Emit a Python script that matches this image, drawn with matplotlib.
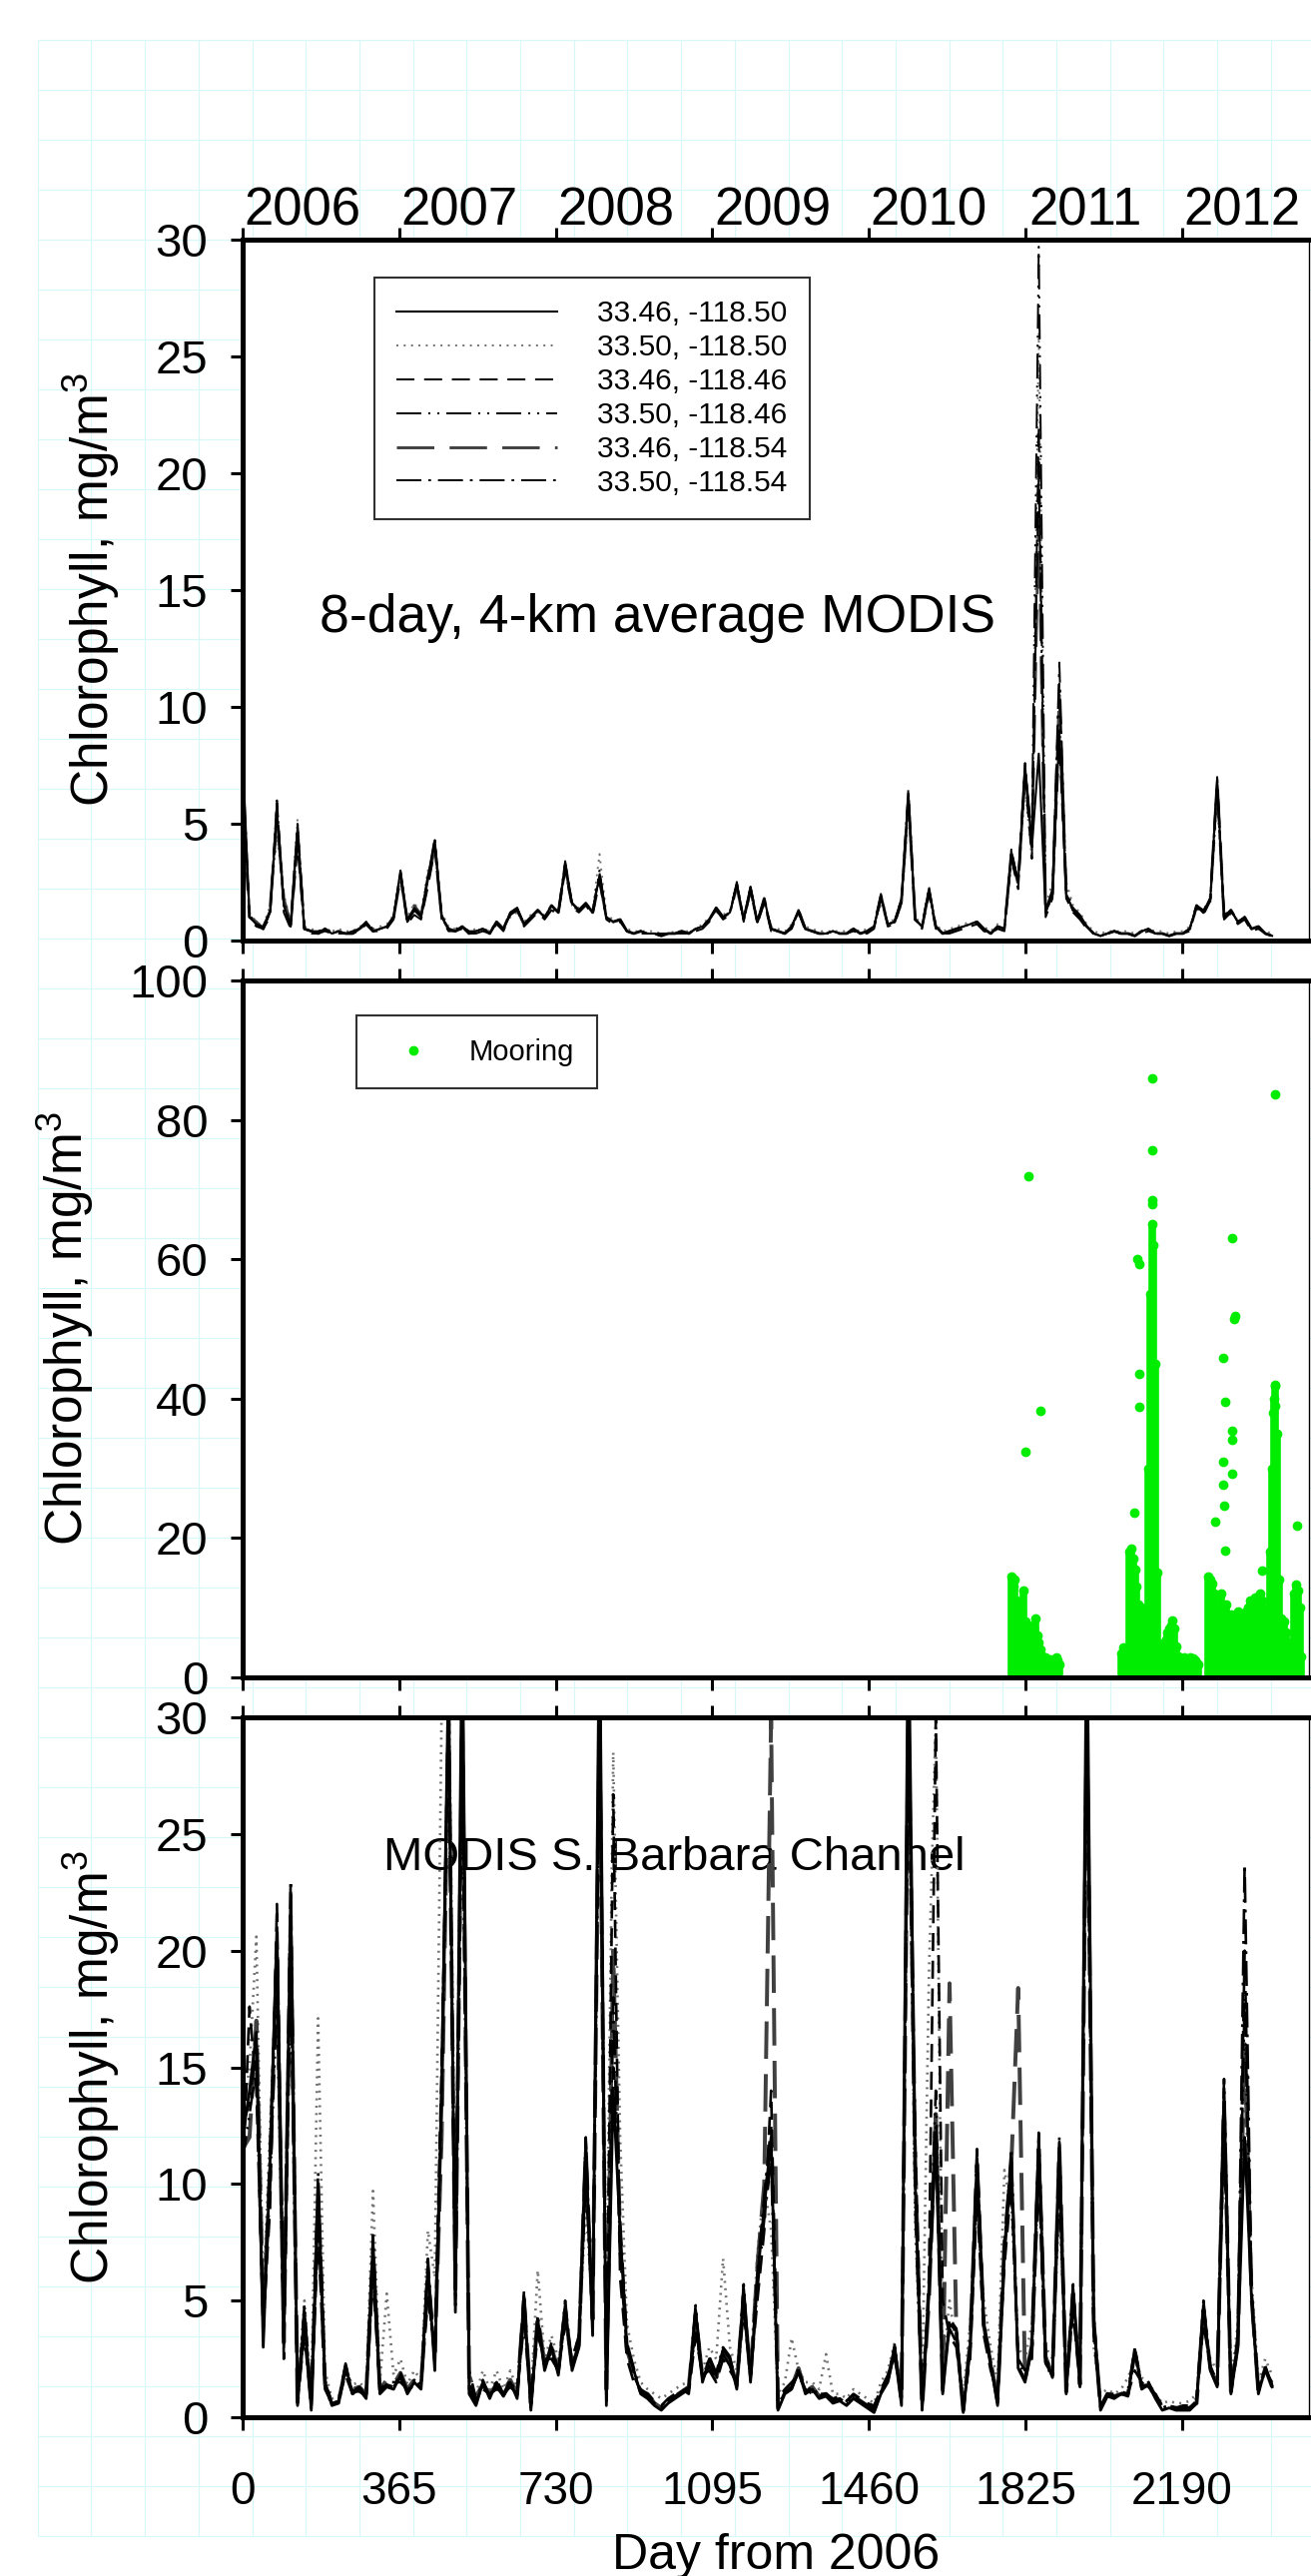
import numpy as np
import matplotlib
matplotlib.use('Agg')
import matplotlib.pyplot as plt

plt.rcParams['font.family'] = ['Liberation Sans', 'DejaVu Sans']
plt.rcParams['mathtext.default'] = 'regular'
plt.rcParams['lines.scale_dashes'] = False

# ---- data -------------------------------------------------------------
# 16-day sampling of the MODIS composites, day counted from 1 Jan 2006
days = np.arange(0, 2401, 16)

locations = ['33.46, -118.50', '33.50, -118.50', '33.46, -118.46',
             '33.50, -118.46', '33.46, -118.54', '33.50, -118.54']
years = ['2006', '2007', '2008', '2009', '2010', '2011', '2012']
day_ticks = [0, 365, 730, 1095, 1460, 1825, 2190]

# top panel: 8-day, 4-km MODIS pixels around the mooring
p1_s1 = [8.0, 1.0, 0.7, 0.5, 1.2, 5.5, 1.5, 0.6, 4.8, 0.5,
         0.4, 0.3, 0.5, 0.3, 0.4, 0.3, 0.3, 0.5, 0.8, 0.4,
         0.5, 0.6, 1.0, 3.0, 0.8, 1.3, 1.0, 2.6, 4.3, 1.0,
         0.5, 0.4, 0.6, 0.3, 0.4, 0.5, 0.3, 0.8, 0.5, 1.2,
         1.4, 0.7, 1.0, 1.3, 1.0, 1.5, 1.2, 3.3, 1.6, 1.3,
         1.6, 1.2, 2.8, 1.0, 0.8, 0.9, 0.4, 0.3, 0.4, 0.3,
         0.3, 0.2, 0.3, 0.3, 0.4, 0.3, 0.5, 0.6, 0.9, 1.4,
         1.0, 1.2, 2.4, 0.9, 2.3, 0.8, 1.8, 0.5, 0.4, 0.3,
         0.6, 1.3, 0.5, 0.4, 0.3, 0.3, 0.4, 0.3, 0.3, 0.5,
         0.3, 0.4, 0.6, 1.9, 0.7, 0.8, 1.8, 6.3, 0.9, 0.6,
         2.2, 0.6, 0.3, 0.4, 0.5, 0.6, 0.7, 0.8, 0.5, 0.3,
         0.6, 0.5, 3.8, 2.5, 7.5, 4.0, 8.0, 1.2, 2.0, 9.0,
         2.0, 1.3, 1.0, 0.6, 0.3, 0.2, 0.3, 0.4, 0.3, 0.3,
         0.2, 0.4, 0.5, 0.3, 0.3, 0.2, 0.3, 0.3, 0.5, 1.5,
         1.2, 1.8, 6.9, 1.0, 1.3, 0.8, 1.0, 0.5, 0.6, 0.3,
         0.2]
p1_s2 = [7.5, 1.2, 0.8, 0.6, 1.5, 4.5, 2.0, 0.8, 5.2, 0.6,
         0.5, 0.4, 0.5, 0.4, 0.5, 0.4, 0.4, 0.6, 0.7, 0.5,
         0.6, 0.7, 1.1, 2.6, 1.0, 1.6, 1.2, 3.0, 3.8, 1.2,
         0.6, 0.5, 0.6, 0.4, 0.5, 0.5, 0.4, 0.7, 0.6, 1.0,
         1.2, 0.8, 1.1, 1.2, 1.1, 1.4, 1.3, 2.9, 1.5, 1.4,
         1.5, 1.3, 3.7, 1.1, 0.9, 0.8, 0.5, 0.4, 0.4, 0.4,
         0.4, 0.3, 0.3, 0.4, 0.4, 0.4, 0.5, 0.7, 1.0, 1.2,
         1.1, 1.3, 2.2, 1.0, 2.0, 0.9, 1.5, 0.6, 0.5, 0.4,
         0.7, 1.1, 0.6, 0.5, 0.4, 0.4, 0.4, 0.4, 0.4, 0.5,
         0.4, 0.5, 0.6, 1.6, 0.8, 0.9, 1.5, 5.5, 1.0, 0.7,
         2.0, 0.7, 0.4, 0.5, 0.6, 0.7, 0.8, 0.7, 0.6, 0.4,
         0.7, 0.6, 3.2, 2.8, 6.5, 3.5, 26.0, 1.5, 2.5, 10.0,
         2.5, 1.5, 1.2, 0.7, 0.4, 0.3, 0.4, 0.4, 0.4, 0.4,
         0.3, 0.4, 0.5, 0.4, 0.4, 0.3, 0.4, 0.4, 0.6, 1.3,
         1.4, 1.6, 6.0, 1.2, 1.1, 0.9, 0.9, 0.6, 0.5, 0.4,
         0.3]
p1_s3 = [6.5, 0.9, 0.6, 0.5, 1.0, 6.0, 1.2, 0.5, 4.0, 0.4,
         0.3, 0.3, 0.4, 0.3, 0.3, 0.3, 0.3, 0.4, 0.7, 0.4,
         0.4, 0.5, 0.9, 2.8, 0.7, 1.1, 0.9, 2.3, 3.9, 0.9,
         0.4, 0.4, 0.5, 0.3, 0.3, 0.4, 0.3, 0.7, 0.4, 1.1,
         1.3, 0.6, 0.9, 1.2, 0.9, 1.3, 1.1, 3.0, 1.4, 1.2,
         1.5, 1.1, 2.5, 0.9, 0.7, 0.8, 0.4, 0.3, 0.3, 0.3,
         0.3, 0.2, 0.3, 0.3, 0.3, 0.3, 0.4, 0.5, 0.8, 1.3,
         0.9, 1.1, 2.5, 0.8, 2.1, 0.7, 1.6, 0.4, 0.4, 0.3,
         0.5, 1.2, 0.4, 0.4, 0.3, 0.3, 0.3, 0.3, 0.3, 0.4,
         0.3, 0.3, 0.5, 1.8, 0.6, 0.7, 1.6, 6.0, 0.8, 0.5,
         2.0, 0.5, 0.3, 0.3, 0.4, 0.5, 0.6, 0.7, 0.4, 0.3,
         0.5, 0.4, 3.5, 2.2, 7.0, 3.5, 22.0, 1.0, 1.8, 8.5,
         1.8, 1.2, 0.9, 0.5, 0.3, 0.2, 0.3, 0.3, 0.3, 0.3,
         0.2, 0.3, 0.4, 0.3, 0.3, 0.2, 0.3, 0.3, 0.4, 1.4,
         1.1, 1.7, 6.5, 0.9, 1.2, 0.7, 0.9, 0.4, 0.5, 0.3,
         0.2]
p1_s4 = [7.0, 1.1, 0.7, 0.6, 1.3, 5.8, 1.6, 0.7, 5.0, 0.5,
         0.4, 0.4, 0.5, 0.4, 0.4, 0.3, 0.4, 0.5, 0.8, 0.5,
         0.5, 0.6, 1.0, 2.9, 0.9, 1.4, 1.1, 2.8, 4.1, 1.1,
         0.5, 0.5, 0.6, 0.4, 0.4, 0.5, 0.4, 0.8, 0.5, 1.1,
         1.3, 0.7, 1.0, 1.3, 1.0, 1.4, 1.2, 3.1, 1.6, 1.3,
         1.6, 1.2, 3.0, 1.0, 0.8, 0.9, 0.4, 0.3, 0.4, 0.3,
         0.3, 0.3, 0.3, 0.3, 0.4, 0.3, 0.5, 0.6, 0.9, 1.3,
         1.0, 1.2, 2.4, 0.9, 2.2, 0.8, 1.7, 0.5, 0.4, 0.3,
         0.6, 1.2, 0.5, 0.4, 0.3, 0.3, 0.4, 0.3, 0.3, 0.5,
         0.3, 0.4, 0.6, 1.8, 0.7, 0.8, 1.7, 6.1, 0.9, 0.6,
         2.1, 0.6, 0.3, 0.4, 0.5, 0.6, 0.7, 0.8, 0.5, 0.3,
         0.6, 0.5, 3.6, 2.6, 7.2, 4.5, 29.7, 1.3, 2.2, 11.0,
         2.2, 1.4, 1.1, 0.6, 0.3, 0.2, 0.3, 0.4, 0.3, 0.3,
         0.2, 0.4, 0.5, 0.3, 0.3, 0.2, 0.3, 0.3, 0.5, 1.5,
         1.3, 1.8, 6.7, 1.1, 1.3, 0.8, 1.0, 0.5, 0.6, 0.3,
         0.2]
p1_s5 = [6.0, 1.0, 0.8, 0.5, 1.4, 5.2, 1.8, 0.7, 4.5, 0.5,
         0.4, 0.3, 0.5, 0.3, 0.4, 0.3, 0.3, 0.5, 0.7, 0.4,
         0.5, 0.6, 1.0, 2.7, 0.9, 1.5, 1.1, 2.5, 4.0, 1.0,
         0.5, 0.4, 0.6, 0.3, 0.4, 0.5, 0.3, 0.8, 0.5, 1.2,
         1.3, 0.7, 1.0, 1.3, 1.0, 1.5, 1.2, 3.2, 1.5, 1.3,
         1.6, 1.2, 2.6, 1.0, 0.8, 0.9, 0.4, 0.3, 0.4, 0.3,
         0.3, 0.2, 0.3, 0.3, 0.4, 0.3, 0.5, 0.6, 0.9, 1.4,
         1.0, 1.2, 2.3, 0.9, 2.2, 0.8, 1.8, 0.5, 0.4, 0.3,
         0.6, 1.3, 0.5, 0.4, 0.3, 0.3, 0.4, 0.3, 0.3, 0.5,
         0.3, 0.4, 0.6, 1.9, 0.7, 0.8, 1.7, 6.0, 0.9, 0.6,
         2.1, 0.6, 0.3, 0.4, 0.5, 0.6, 0.7, 0.8, 0.5, 0.3,
         0.6, 0.5, 3.7, 2.4, 7.3, 4.2, 18.0, 1.2, 2.0, 10.5,
         2.0, 1.3, 1.0, 0.6, 0.3, 0.2, 0.3, 0.4, 0.3, 0.3,
         0.2, 0.4, 0.5, 0.3, 0.3, 0.2, 0.3, 0.3, 0.5, 1.5,
         1.2, 1.8, 6.8, 1.0, 1.3, 0.8, 1.0, 0.5, 0.6, 0.3,
         0.2]
p1_s6 = [7.8, 1.0, 0.7, 0.5, 1.2, 5.9, 1.5, 0.6, 4.9, 0.5,
         0.4, 0.3, 0.5, 0.3, 0.4, 0.3, 0.3, 0.5, 0.8, 0.4,
         0.5, 0.6, 1.0, 3.0, 0.8, 1.3, 1.0, 2.7, 4.4, 1.0,
         0.5, 0.4, 0.6, 0.3, 0.4, 0.5, 0.3, 0.8, 0.5, 1.2,
         1.4, 0.7, 1.0, 1.3, 1.0, 1.5, 1.2, 3.4, 1.6, 1.3,
         1.6, 1.2, 2.9, 1.0, 0.8, 0.9, 0.4, 0.3, 0.4, 0.3,
         0.3, 0.2, 0.3, 0.3, 0.4, 0.3, 0.5, 0.6, 0.9, 1.4,
         1.0, 1.2, 2.5, 0.9, 2.3, 0.8, 1.8, 0.5, 0.4, 0.3,
         0.6, 1.3, 0.5, 0.4, 0.3, 0.3, 0.4, 0.3, 0.3, 0.5,
         0.3, 0.4, 0.6, 2.0, 0.7, 0.8, 1.8, 6.5, 0.9, 0.6,
         2.3, 0.6, 0.3, 0.4, 0.5, 0.6, 0.7, 0.8, 0.5, 0.3,
         0.6, 0.5, 3.9, 2.5, 7.6, 4.0, 20.0, 1.2, 2.0, 11.9,
         2.0, 1.3, 1.0, 0.6, 0.3, 0.2, 0.3, 0.4, 0.3, 0.3,
         0.2, 0.4, 0.5, 0.3, 0.3, 0.2, 0.3, 0.3, 0.5, 1.5,
         1.2, 1.8, 7.0, 1.0, 1.3, 0.8, 1.0, 0.5, 0.6, 0.3,
         0.2]

# bottom panel: MODIS, Santa Barbara Channel
p3_s1 = [12.0, 14.0, 16.5, 3.0, 11.0, 21.0, 3.0, 22.5, 0.5, 4.5,
         0.3, 10.0, 1.5, 0.5, 0.6, 2.2, 1.0, 1.2, 0.8, 7.5,
         1.0, 1.3, 1.2, 1.8, 1.0, 1.5, 1.2, 6.5, 2.0, 14.0,
         32.0, 4.5, 35.0, 1.0, 0.5, 1.5, 0.8, 1.5, 0.9, 1.5,
         0.8, 5.2, 0.3, 4.2, 2.0, 3.0, 1.8, 4.8, 2.0, 3.0,
         11.8, 3.5, 35.0, 0.5, 14.0, 8.0, 3.0, 2.0, 1.0, 0.8,
         0.5, 0.3, 0.6, 0.8, 1.0, 1.2, 4.6, 1.5, 2.5, 1.8,
         2.9, 2.5, 1.2, 5.5, 1.5, 6.0, 9.0, 12.0, 0.3, 1.0,
         1.2, 2.0, 1.0, 1.2, 0.8, 0.9, 0.6, 0.7, 0.5, 0.8,
         0.6, 0.4, 0.2, 1.0, 1.5, 3.0, 0.5, 35.0, 10.0, 0.3,
         5.3, 12.0, 1.0, 4.0, 3.7, 0.2, 3.0, 11.1, 4.0, 2.3,
         0.5, 7.2, 11.1, 2.1, 1.5, 3.0, 11.9, 2.5, 1.7, 11.8,
         1.0, 5.5, 1.3, 35.0, 4.3, 0.3, 0.9, 0.8, 1.0, 0.9,
         2.9, 1.2, 1.4, 0.8, 0.3, 0.4, 0.3, 0.3, 0.3, 0.6,
         4.8, 2.0, 1.3, 14.1, 1.0, 3.0, 12.0, 5.1, 1.0, 2.1,
         1.3]
p3_s2 = [13.0, 15.0, 20.6, 5.0, 12.5, 19.0, 4.0, 21.0, 1.0, 5.0,
         0.8, 17.1, 2.0, 0.8, 0.9, 2.0, 1.4, 1.5, 1.2, 9.7,
         1.5, 5.3, 1.8, 2.5, 1.4, 2.0, 1.6, 8.0, 6.0, 30.5,
         33.0, 8.0, 30.0, 1.5, 1.0, 2.0, 1.2, 2.0, 1.2, 2.0,
         1.2, 4.5, 1.0, 6.3, 2.5, 3.5, 2.5, 4.0, 2.5, 3.5,
         9.0, 4.5, 30.0, 5.0, 28.5, 12.0, 4.0, 2.5, 1.5, 1.2,
         1.0, 0.8, 1.0, 1.2, 1.4, 1.5, 3.5, 2.0, 3.0, 2.5,
         6.8, 3.0, 2.0, 5.0, 2.0, 7.0, 10.0, 8.0, 1.0, 1.5,
         3.4, 2.0, 1.5, 1.5, 1.2, 2.7, 1.0, 1.0, 0.8, 1.2,
         1.0, 0.8, 0.6, 1.5, 2.0, 3.2, 1.0, 30.0, 8.0, 1.0,
         19.0, 30.0, 2.0, 5.0, 3.0, 1.0, 4.0, 9.0, 5.0, 3.0,
         1.5, 10.6, 9.0, 3.0, 2.5, 4.0, 10.0, 3.0, 2.5, 9.0,
         2.0, 5.0, 2.0, 30.0, 3.0, 1.0, 1.2, 1.0, 1.2, 1.7,
         2.5, 1.7, 1.5, 1.0, 0.6, 0.7, 0.6, 0.6, 0.7, 1.0,
         4.0, 2.5, 2.0, 12.0, 1.5, 4.0, 15.0, 6.0, 1.5, 2.5,
         1.8]
p3_s3 = [10.0, 17.6, 14.0, 4.0, 9.0, 22.0, 2.5, 20.0, 0.8, 3.5,
         0.5, 8.0, 1.2, 0.6, 0.8, 1.8, 1.0, 1.0, 0.9, 6.0,
         1.2, 1.5, 1.5, 1.5, 1.2, 1.3, 1.5, 5.0, 3.0, 15.1,
         30.0, 6.0, 30.0, 2.0, 0.8, 1.2, 1.0, 1.2, 1.0, 1.3,
         1.0, 4.0, 0.8, 3.5, 2.5, 2.5, 2.0, 4.0, 2.5, 3.5,
         10.0, 5.0, 30.0, 1.5, 26.7, 6.0, 2.5, 1.5, 1.2, 1.0,
         0.7, 0.5, 0.8, 1.0, 1.2, 1.0, 3.5, 1.8, 2.0, 1.5,
         2.5, 2.0, 1.5, 4.5, 1.8, 5.0, 8.0, 14.0, 0.8, 1.2,
         1.5, 1.8, 1.2, 1.0, 1.0, 1.0, 0.8, 0.9, 0.7, 1.0,
         0.8, 0.6, 0.5, 1.2, 1.8, 2.5, 1.0, 30.0, 12.0, 0.5,
         6.0, 30.0, 5.0, 3.5, 3.0, 0.5, 2.5, 9.5, 3.5, 2.0,
         1.0, 6.5, 10.0, 2.5, 2.0, 2.5, 10.5, 2.0, 2.0, 10.0,
         1.5, 4.5, 1.5, 30.0, 3.5, 0.5, 1.0, 1.0, 1.1, 1.0,
         2.0, 1.5, 1.2, 1.0, 0.5, 0.5, 0.4, 0.5, 0.5, 0.8,
         4.0, 2.2, 1.5, 12.5, 1.2, 3.5, 20.0, 5.5, 1.2, 2.0,
         1.5]
p3_s4 = [11.0, 13.0, 15.0, 3.5, 10.0, 18.0, 3.5, 19.0, 0.6, 4.0,
         0.4, 9.0, 1.3, 0.5, 0.7, 2.0, 1.1, 1.1, 0.9, 6.5,
         1.1, 1.4, 1.3, 1.7, 1.1, 1.4, 1.3, 5.5, 2.5, 13.0,
         30.0, 5.0, 28.0, 1.5, 0.7, 1.3, 0.9, 1.3, 0.9, 1.4,
         0.9, 4.8, 0.5, 4.0, 2.2, 2.8, 1.9, 4.5, 2.2, 3.2,
         11.0, 4.0, 30.0, 1.0, 18.0, 7.0, 2.8, 1.8, 1.1, 0.9,
         0.6, 0.4, 0.7, 0.9, 1.1, 1.1, 4.0, 1.6, 2.2, 1.6,
         2.7, 2.2, 1.3, 5.0, 1.6, 5.5, 8.5, 11.0, 0.5, 1.1,
         1.3, 1.9, 1.1, 1.1, 0.9, 1.0, 0.7, 0.8, 0.6, 0.9,
         0.7, 0.5, 0.4, 1.1, 1.6, 2.8, 0.8, 30.0, 9.0, 0.4,
         5.5, 14.0, 1.5, 3.8, 3.2, 0.4, 2.8, 10.5, 3.8, 2.2,
         0.8, 7.0, 10.5, 2.3, 1.8, 2.8, 11.0, 2.3, 1.8, 11.0,
         1.2, 5.0, 1.4, 30.0, 4.0, 0.4, 1.0, 0.9, 1.0, 1.2,
         2.7, 1.4, 1.3, 0.9, 0.4, 0.5, 0.4, 0.4, 0.4, 0.7,
         4.5, 2.1, 1.4, 13.0, 1.1, 3.2, 18.0, 5.0, 1.1, 2.0,
         1.4]
p3_s5 = [11.5, 12.0, 17.0, 4.5, 10.5, 20.0, 3.2, 21.5, 0.7, 4.2,
         0.5, 9.5, 1.4, 0.6, 0.7, 2.1, 1.2, 1.3, 1.0, 7.0,
         1.2, 1.6, 1.4, 1.9, 1.2, 1.6, 1.4, 6.0, 2.8, 12.0,
         30.0, 5.5, 30.0, 1.8, 0.9, 1.4, 1.0, 1.4, 1.1, 1.6,
         1.0, 5.0, 0.6, 4.3, 2.3, 3.0, 2.0, 4.6, 2.1, 3.1,
         11.5, 4.2, 30.0, 1.2, 20.0, 7.5, 2.9, 1.9, 1.1, 1.0,
         0.6, 0.4, 0.7, 0.9, 1.1, 1.3, 4.4, 1.7, 2.4, 1.7,
         2.8, 2.4, 1.4, 5.2, 1.7, 6.5, 10.0, 30.0, 0.4, 1.1,
         1.3, 2.1, 1.1, 1.3, 0.9, 1.0, 0.7, 0.8, 0.6, 0.9,
         0.7, 0.5, 0.3, 1.1, 1.6, 2.9, 0.7, 30.0, 11.0, 0.4,
         5.0, 13.0, 1.2, 18.6, 3.5, 0.3, 3.2, 10.8, 3.9, 2.4,
         0.7, 7.5, 10.8, 18.4, 1.6, 3.1, 11.5, 2.6, 1.8, 11.5,
         1.1, 5.3, 1.4, 30.0, 4.1, 0.4, 1.0, 0.9, 1.0, 1.0,
         2.8, 1.3, 1.4, 0.9, 0.4, 0.5, 0.4, 0.4, 0.4, 0.6,
         4.6, 2.1, 1.4, 13.5, 1.1, 3.1, 16.0, 5.2, 1.1, 2.1,
         1.3]
p3_s6 = [12.5, 13.5, 16.0, 3.8, 11.5, 20.5, 3.5, 23.0, 0.6, 4.8,
         0.4, 10.5, 1.6, 0.6, 0.7, 2.3, 1.1, 1.3, 0.9, 7.8,
         1.1, 1.4, 1.3, 1.9, 1.1, 1.6, 1.3, 6.8, 2.2, 14.5,
         31.0, 4.8, 32.0, 1.2, 0.6, 1.6, 0.9, 1.6, 1.0, 1.6,
         0.9, 5.4, 0.4, 4.4, 2.1, 3.2, 1.9, 5.0, 2.1, 3.2,
         12.0, 3.8, 32.0, 0.7, 15.0, 8.5, 3.2, 2.1, 1.1, 0.9,
         0.6, 0.4, 0.7, 0.9, 1.1, 1.3, 4.8, 1.6, 2.6, 1.9,
         3.0, 2.6, 1.3, 5.7, 1.6, 6.2, 9.5, 12.5, 0.4, 1.1,
         1.3, 2.1, 1.1, 1.3, 0.9, 1.0, 0.7, 0.8, 0.6, 0.9,
         0.7, 0.5, 0.3, 1.1, 1.6, 3.1, 0.6, 32.0, 10.5, 0.4,
         5.5, 12.5, 1.1, 4.2, 3.8, 0.3, 3.1, 11.5, 4.1, 2.4,
         0.6, 7.4, 11.5, 2.2, 1.6, 3.1, 12.2, 2.6, 1.8, 12.0,
         1.1, 5.7, 1.4, 32.0, 4.4, 0.4, 1.0, 0.9, 1.0, 1.0,
         3.0, 1.3, 1.5, 0.9, 0.4, 0.5, 0.4, 0.4, 0.4, 0.7,
         5.0, 2.1, 1.4, 14.5, 1.1, 3.1, 23.7, 5.3, 1.1, 2.2,
         1.3]

# middle panel: mooring fluorometer, upper envelope every 4 days
moor_days = np.concatenate([np.arange(1792, 1905, 4),
                            np.arange(2048, 2229, 4),
                            np.arange(2252, 2469, 4)])
moor_max = [14.5, 13.0, 14.0, 11.0, 9.0, 8.5, 9.5, 12.5, 8.0, 6.5,
            7.5, 6.0, 5.0, 7.0, 8.5, 6.0, 5.0, 4.0, 3.0, 2.5,
            2.8, 2.2, 2.0, 2.6, 2.2, 2.4, 2.8, 2.5, 1.8,
            3.5, 4.3, 4.0, 3.8, 4.2, 18.0, 18.5, 17.0, 15.5, 13.0,
            10.5, 9.0, 10.0, 8.5, 7.0, 9.5, 30.0, 55.0, 65.0, 62.0,
            45.0, 15.0, 4.5, 4.0, 4.2, 5.0, 5.5, 6.5, 7.0, 7.5,
            8.2, 7.0, 4.5, 3.0, 2.8, 2.5, 2.6, 2.8, 2.2, 2.5,
            2.8, 2.4, 2.7, 2.5, 2.2, 1.8,
            14.5, 14.0, 13.5, 12.0, 9.0, 8.0, 10.0, 12.0, 9.5, 8.0,
            10.5, 8.5, 7.5, 9.0, 8.0, 7.0, 8.5, 9.5, 7.5, 8.0,
            9.0, 8.5, 9.5, 10.0, 11.0, 9.0, 10.5, 11.5, 9.5, 10.0,
            12.0, 11.0, 9.0, 8.5, 9.0, 10.0, 18.0, 30.0, 40.0, 42.0,
            35.0, 14.0, 8.5, 7.5, 8.0, 6.5, 5.0, 2.5, 1.5, 2.0,
            12.0, 13.3, 12.5, 10.0, 3.0]
# isolated high readings
moor_out_day = [1824, 1833, 1861, 2078, 2086, 2090, 2091, 2091, 2120, 2120,
                2121, 2121, 2268, 2285, 2285, 2285, 2288, 2290, 2290, 2307,
                2307, 2307, 2307, 2311, 2314, 2377, 2403, 2407, 2407, 2408,
                2458]
moor_out_val = [32.4, 71.9, 38.3, 23.7, 60.1, 43.5, 59.3, 38.8, 67.9, 68.5,
                75.6, 86.0, 22.4, 45.8, 30.9, 27.6, 24.7, 39.6, 18.2, 63.0,
                35.4, 34.1, 29.2, 51.5, 51.8, 15.3, 38.0, 39.0, 83.6, 41.9,
                21.8]

# ---- styles -----------------------------------------------------------
line_styles = [
    dict(color='black', lw=1.5, ls='-', zorder=2.6),
    dict(color='#707070', lw=1.4, ls=(0, (1.4, 3.9)), zorder=2.1),
    dict(color='black', lw=1.4, ls=(0, (13, 7)), zorder=2.3),
    dict(color='black', lw=1.4, ls=(0, (18, 5, 1.5, 5, 1.5, 5)), zorder=2.4),
    dict(color='#404040', lw=2.1, ls=(0, (27, 11)), zorder=2.2),
    dict(color='black', lw=1.4, ls=(0, (18, 5, 2, 5)), zorder=2.5),
]
green = '#00ec00'
ylab = 'Chlorophyll, mg/m$^3$'


def style_axis(ax, ymax, ystep):
    ax.set_xlim(0, 2486)
    ax.set_ylim(0, ymax)
    ax.set_xticks(day_ticks)
    ax.set_yticks(np.arange(0, ymax + 1, ystep))
    ax.tick_params(which='major', direction='out', length=9, width=2.2,
                   top=True, bottom=True, left=True, right=False,
                   labelbottom=False)
    ax.tick_params(axis='y', labelsize=34, pad=16)
    ax.tick_params(axis='x', labelsize=33, pad=29)
    for s in ['left', 'top', 'bottom']:
        ax.spines[s].set_linewidth(3.6)
    ax.spines['right'].set_linewidth(1.0)
    ax.set_ylabel(ylab, fontsize=37, labelpad=24)


fig = plt.figure(figsize=(13.13, 25.80), dpi=100)

# light page grid behind the panels
bg = fig.add_axes([0, 0, 1, 1], zorder=-10)
bg.set_xlim(0, 1313)
bg.set_ylim(2580, 0)
bg.axis('off')
bg.vlines(np.arange(37.7, 1313, 53.7), 40, 2540, color='#d6f8f8', lw=0.8)
bg.hlines(np.arange(40, 2541, 50), 37.7, 1313, color='#d6f8f8', lw=0.8)

L, W = 243 / 1313, 1068 / 1313
ax1 = fig.add_axes([L, 1 - 942 / 2580, W, 702 / 2580])
ax2 = fig.add_axes([L, 1 - 1680 / 2580, W, 698 / 2580])
ax3 = fig.add_axes([L, 1 - 2421 / 2580, W, 701 / 2580])

# top panel
for vals, lab, st in zip([p1_s1, p1_s2, p1_s3, p1_s4, p1_s5, p1_s6], locations, line_styles):
    ax1.plot(days, vals, label=lab, **st)
style_axis(ax1, 30, 5)
ax1.set_xticks([d + 140 for d in day_ticks], years, minor=True)
ax1.tick_params(which='minor', length=0, top=True, bottom=False,
                labeltop=True, labelbottom=False, labelsize=38, pad=2.5)
ax1.text(0.072, 0.440, '8-day, 4-km average MODIS', transform=ax1.transAxes,
         fontsize=38.5, ha='left', va='baseline', zorder=1)
leg = ax1.legend(loc='upper left', bbox_to_anchor=(0.1236, 0.9459), borderaxespad=0,
                 fontsize=21.5, handlelength=5.4, handletextpad=1.34, borderpad=0.74,
                 labelspacing=0.2, fancybox=False, edgecolor='#303030', framealpha=1)
leg.get_frame().set_linewidth(1.5)

# middle panel
ax2.vlines(moor_days, 0, moor_max, color=green, lw=5.5, zorder=2)
ax2.plot(moor_days, moor_max, 'o', ls='none', color=green, ms=6, zorder=2)
ax2.plot(moor_out_day, moor_out_val, 'o', ls='none', color=green, ms=6,
         zorder=2, label='Mooring')
style_axis(ax2, 100, 20)
leg2 = ax2.legend(loc='upper left', bbox_to_anchor=(0.1067, 0.9499), borderaxespad=0,
                  fontsize=21, handlelength=2.37, handletextpad=0.72, borderpad=0.78,
                  numpoints=1, fancybox=False, edgecolor='#303030', framealpha=1)
leg2.get_frame().set_linewidth(1.5)

# bottom panel (heavier strokes, as in the original)
for vals, st in zip([p3_s1, p3_s2, p3_s3, p3_s4, p3_s5, p3_s6], line_styles):
    st3 = dict(st, lw=st['lw'] * 1.35)
    ax3.plot(days, vals, **st3)
style_axis(ax3, 30, 5)
ax3.tick_params(axis='x', labelbottom=True)
ax3.set_xlabel('Day from 2006', fontsize=36, labelpad=14)
ax3.text(0.132, 0.7817, 'MODIS S. Barbara Channel', transform=ax3.transAxes,
         fontsize=34, ha='left', va='baseline', zorder=1)

fig.savefig('out.png', dpi=100)
